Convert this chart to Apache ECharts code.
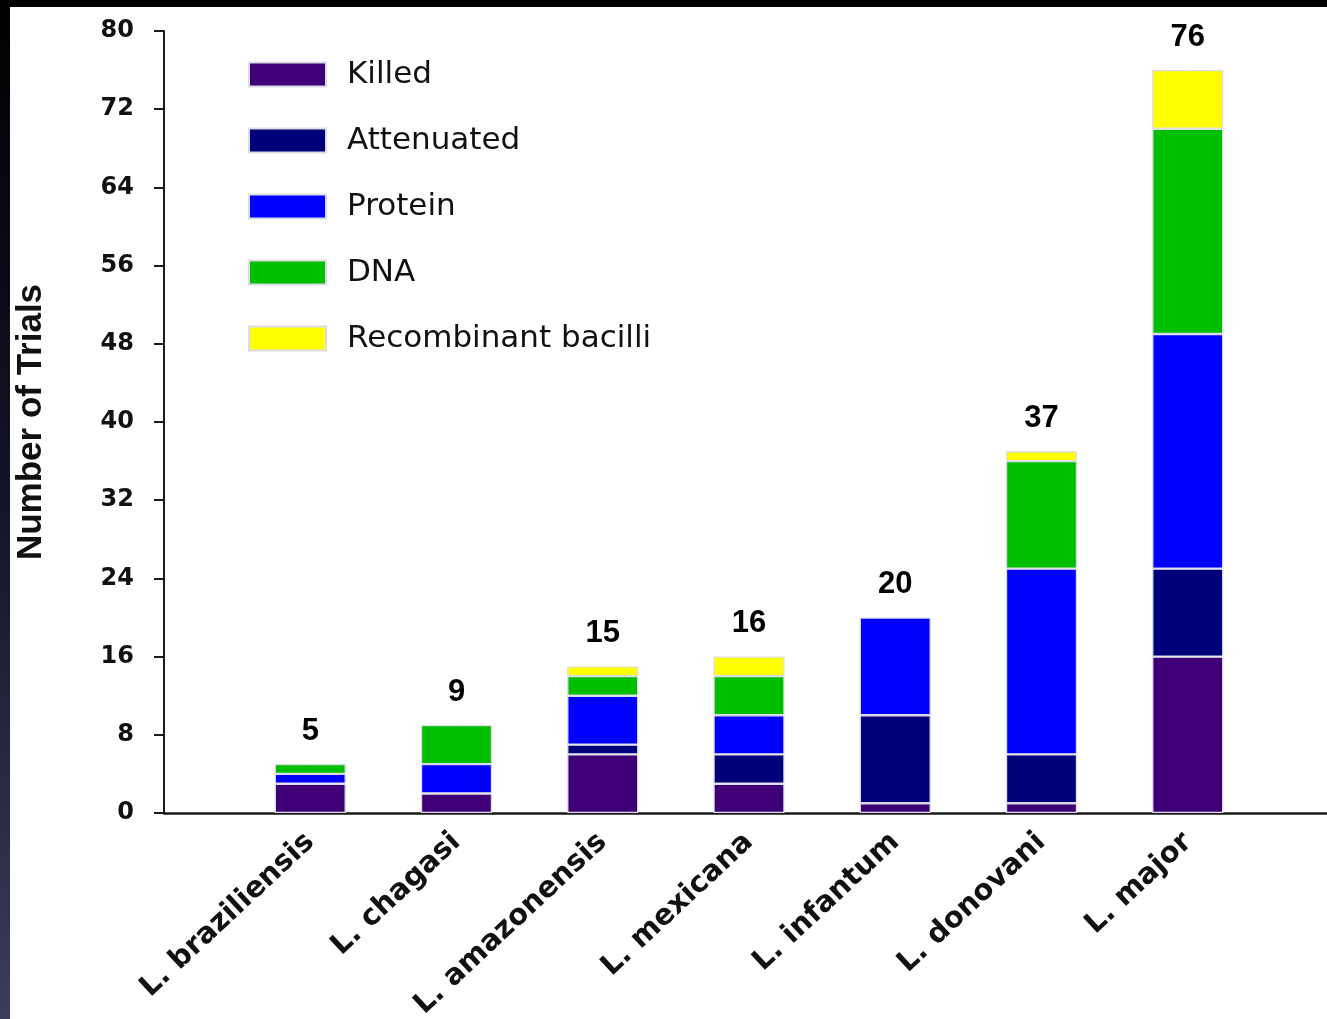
<!DOCTYPE html>
<html>
<head>
<meta charset="utf-8">
<script src="https://cdn.jsdelivr.net/npm/echarts@6/dist/echarts.min.js"></script>
<style>
html,body{margin:0;padding:0;background:#fff;}
#chart{width:1327px;height:1019px;}
</style>
</head>
<body>
<div id="chart"></div>
<script>
const categories = ['L. braziliensis','L. chagasi','L. amazonensis','L. mexicana','L. infantum','L. donovani','L. major'];
const killed      = [3, 2, 6, 3, 1, 1, 16];
const attenuated  = [0, 0, 1, 3, 9, 5, 9];
const protein     = [1, 3, 5, 4, 10, 19, 24];
const dna         = [1, 4, 2, 4, 0, 11, 21];
const recombinant = [0, 0, 1, 2, 0, 1, 6];
const totals      = [5, 9, 15, 16, 20, 37, 76];
const yMin = 0, yMax = 80, yStep = 8;

const seriesNames = ['Killed','Attenuated','Protein','DNA','Recombinant bacilli'];
const seriesValues = [killed, attenuated, protein, dna, recombinant];
const colors = ['#3f0077','#00007a','#0000ff','#00bf00','#ffff00'];

// pad with empty slots at both ends so bars sit at the axis ticks 1..7
const pad = arr => [null].concat(arr.map(v => v === 0 ? null : v), [null]);
const axisCats = [''].concat(categories, ['']);

const chart = echarts.init(document.getElementById('chart'), null, {renderer:'canvas'});

const series = seriesNames.map((name, i) => ({
  name: name,
  type: 'bar',
  stack: 'total',
  barWidth: 71,
  data: pad(seriesValues[i]),
  itemStyle: {color: colors[i], borderColor: '#dcdce6', borderWidth: 1.2},
  emphasis: {disabled: true}
}));
series.push({
  name: 'total',
  type: 'scatter',
  data: pad(totals),
  symbol: 'rect',
  symbolSize: [1, 1],
  itemStyle: {color: '#dcdce6'},
  label: {
    show: true, position: 'top', distance: 17,
    fontFamily: 'Liberation Sans', fontWeight: 'bold', fontSize: 31, color: '#000000',
    textBorderWidth: 0, opacity: 1
  },
  emphasis: {disabled: true},
  z: 5,
  silent: true
});

chart.setOption({
  animation: false,
  backgroundColor: '#ffffff',
  graphic: [
    {type: 'rect', left: 0, top: 0, shape: {width: 1327, height: 7}, style: {fill: '#000'}, z: 100},
    {type: 'rect', left: 0, top: 0, shape: {width: 10, height: 1019},
     style: {fill: new echarts.graphic.LinearGradient(0, 0, 0, 1, [
       {offset: 0, color: '#000000'}, {offset: 0.5, color: '#14142a'}, {offset: 1, color: '#3c3c5c'}])}, z: 100}
  ],
  grid: {left: 164, top: 31, width: 1170, height: 782, containLabel: false, outerBoundsMode: 'none'},
  legend: {
    data: seriesNames,
    orient: 'vertical',
    left: 248, top: 59,
    padding: 0,
    itemWidth: 77, itemHeight: 24, itemGap: 35,
    icon: 'rect',
    selectedMode: false,
    textStyle: {fontFamily: 'DejaVu Sans', fontSize: 31, color: '#111', padding: [0, 0, 0, 16]}
  },
  xAxis: {
    type: 'category',
    data: axisCats,
    boundaryGap: false,
    axisLine: {lineStyle: {color: '#1a1a1a', width: 2.5}},
    axisTick: {show: false},
    axisLabel: {
      interval: 0, rotate: 43, margin: 25,
      align: 'right', verticalAlign: 'middle',
      fontFamily: 'DejaVu Sans', fontWeight: 'bold', fontSize: 29, color: '#111'
    },
    splitLine: {show: false}
  },
  yAxis: {
    type: 'value',
    min: yMin, max: yMax, interval: yStep,
    name: 'Number of Trials',
    nameLocation: 'middle',
    nameGap: 115,
    nameTextStyle: {fontFamily: 'Liberation Sans', fontWeight: 'bold', fontSize: 35, color: '#111'},
    axisLine: {show: true, lineStyle: {color: '#1a1a1a', width: 2}},
    axisTick: {show: true, length: 10, lineStyle: {color: '#1a1a1a', width: 2}},
    axisLabel: {margin: 30, fontFamily: 'DejaVu Sans', fontWeight: 'bold', fontSize: 24, color: '#111'},
    splitLine: {show: false}
  },
  series: series
});
</script>
</body>
</html>
